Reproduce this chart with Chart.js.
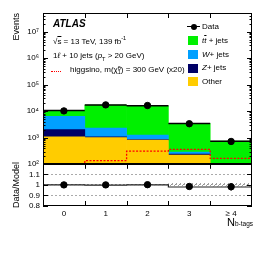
<!DOCTYPE html>
<html><head><meta charset="utf-8">
<script src="https://cdn.jsdelivr.net/npm/chart.js@4"></script>
<style>
html,body{margin:0;padding:0;background:#fff;}
#wrap{position:relative;width:266px;height:253px;overflow:hidden;font-family:"Liberation Sans",Arial,sans-serif;color:#000;}
canvas{position:absolute;left:0;}
.t{position:absolute;white-space:nowrap;line-height:10px;height:10px;font-size:8px;}
.box{position:absolute;width:10px;height:9px;left:188px;}
sub,sup{font-size:70%;line-height:0;}
.ss{display:inline-block;vertical-align:middle;line-height:4px;font-size:5.5px;text-align:left;}
</style></head><body>
<div id="wrap">
<canvas id="main" width="266" height="166" style="top:0"></canvas>
<canvas id="ratio" width="266" height="91" style="top:162px"></canvas>

<div class="t" style="left:53px;top:19px;font-size:10px;font-weight:bold;font-style:italic;">ATLAS</div>
<div class="t" style="left:53px;top:37px;">√<span style="text-decoration:overline">s</span> = 13 TeV, 139 fb<sup>-1</sup></div>
<div class="t" style="left:53px;top:51px;">1<i>ℓ</i> + 10 jets (<i>p</i><sub>T</sub> &gt; 20 GeV)</div>
<div style="position:absolute;left:51px;top:71px;width:10px;border-top:1.3px dotted #f00;"></div>
<div class="t" style="left:70px;top:65px;">higgsino, m(χ̃<span class="ss">0<br>1</span>) = 300 GeV (x20)</div>

<div style="position:absolute;left:187px;top:26px;width:13px;height:1px;background:#000;"></div>
<div style="position:absolute;left:190.5px;top:23.5px;width:6px;height:6px;border-radius:50%;background:#000;"></div>
<div class="t" style="left:202px;top:21.5px;">Data</div>
<div class="box" style="top:36px;background:#00f000;"></div>
<div class="t" style="left:202px;top:35.5px;"><i>t</i><i style="text-decoration:overline">t</i> + jets</div>
<div class="box" style="top:50px;background:#00a0ff;"></div>
<div class="t" style="left:202px;top:49.5px;"><i>W</i>+ jets</div>
<div class="box" style="top:64px;background:#000066;"></div>
<div class="t" style="left:202px;top:63px;"><i>Z</i>+ jets</div>
<div class="box" style="top:77px;background:#ffcc00;"></div>
<div class="t" style="left:202px;top:77px;">Other</div>

<div class="t" style="left:227px;top:216px;font-size:11px;height:12px;line-height:12px;">N<span style="font-size:6.5px;">b-tags</span></div>
</div>
<script>
const categories = ['0', '1', '2', '3', '≥ 4'];
const dataEvents = [10200, 17200, 16300, 3350, 720];
const ttbar = [4100, 14700, 14760, 3115, 652];
const wjets = [4400, 1220, 390, 45, 20];
const zjets = [930, 80, 40, 20, 8];
const other = [1070, 1000, 810, 220, 60];
const higgsino = [60, 137, 310, 360, 165];
const ratioData = [1.0, 1.0, 1.002, 0.985, 0.982];
const ratioErr = [0.01, 0.008, 0.008, 0.017, 0.035];
const ratioModel = [1.0, 0.998, 1.0, 0.98, 0.98];
const bandLo = [0.997, 0.997, 0.997, 0.99, 0.985];
const bandHi = [1.003, 1.003, 1.004, 1.017, 1.018];
const mainYTicks = [1e2, 1e3, 1e4, 1e5, 1e6, 1e7];
const ratioYTicks = [0.8, 0.9, 1.0, 1.1, 1.2];

Chart.defaults.font.family = '"Liberation Sans", Arial, sans-serif';
Chart.defaults.color = '#000';

const total = categories.map((_, i) => ttbar[i] + wjets[i] + zjets[i] + other[i]);
const edges = categories.map((_, i) => i - 0.5).concat([categories.length - 0.5]);
const pts = vals => vals.map((v, i) => ({x: i, y: v}));
const steps = vals => edges.map((e, i) => ({x: e, y: vals[Math.min(i, vals.length - 1)]}));
const hsegs = vals => {
  const out = [];
  vals.forEach((v, i) => { out.push({x: edges[i], y: v}, {x: edges[i + 1], y: v}, {x: edges[i + 1], y: null}); });
  return out;
};
const supMap = {'0':'⁰','1':'¹','2':'²','3':'³','4':'⁴','5':'⁵','6':'⁶','7':'⁷','8':'⁸','9':'⁹'};
const sup = n => String(n).split('').map(c => supMap[c]).join('');

function framePlugin(cfg) {
  return {
    id: 'frame',
    afterDatasetsDraw(chart) {
      const {ctx, chartArea: a, scales} = chart;
      ctx.save();
      ctx.strokeStyle = '#000';
      ctx.lineWidth = 1;
      ctx.beginPath();
      cfg.y.forEach(([v, len]) => {
        const py = Math.round(scales.y.getPixelForValue(v)) + 0.5;
        ctx.moveTo(a.left, py); ctx.lineTo(a.left + len, py);
        ctx.moveTo(a.right, py); ctx.lineTo(a.right - len, py);
      });
      cfg.x.forEach(([v, len, top, bottom]) => {
        const px = Math.round(scales.x.getPixelForValue(v)) + 0.5;
        if (top) { ctx.moveTo(px, a.top); ctx.lineTo(px, a.top + len); }
        if (bottom) { ctx.moveTo(px, a.bottom); ctx.lineTo(px, a.bottom - len); }
      });
      ctx.stroke();
      ctx.strokeRect(Math.round(a.left) + 0.5, Math.round(a.top) + 0.5,
        Math.round(a.right - a.left) - 1, Math.round(a.bottom - a.top) - 1);
      if (cfg.err) {
        ctx.beginPath();
        cfg.err.vals.forEach((v, i) => {
          const px = scales.x.getPixelForValue(i);
          ctx.moveTo(px, scales.y.getPixelForValue(v - cfg.err.e[i]));
          ctx.lineTo(px, scales.y.getPixelForValue(v + cfg.err.e[i]));
        });
        ctx.lineWidth = 1.2;
        ctx.stroke();
      }
      ctx.restore();
    }
  };
}

const mainTickMarks = [];
for (let e = 2; e <= 7; e++) {
  for (let k = 1; k <= 9; k++) {
    const v = k * Math.pow(10, e);
    if (v > 100 && v < 5e7) mainTickMarks.push([v, k === 1 ? 5 : 2.5]);
  }
}
const edgeTicks = edges.slice(1, -1);

function mainConfig() {
  return {
    type: 'bar',
    data: {
      datasets: [
        {type: 'scatter', label: 'Data', data: pts(dataEvents), backgroundColor: '#000', borderColor: '#000', pointRadius: 3.2, order: 0, stack: 'd'},
        {type: 'line', label: 'Total', data: hsegs(total), borderColor: '#000', borderWidth: 1.5, pointRadius: 0, order: 1, stack: 't', spanGaps: false},
        {type: 'line', label: 'higgsino', data: steps(higgsino), stepped: true, borderColor: '#ff0000', borderDash: [2, 1.5], borderWidth: 1.3, pointRadius: 0, order: 2, stack: 'h'},
        {label: 'Other', data: pts(other), backgroundColor: '#ffcc00', order: 5},
        {label: 'Z+jets', data: pts(zjets), backgroundColor: '#000066', order: 5},
        {label: 'W+jets', data: pts(wjets), backgroundColor: '#00a0ff', order: 5},
        {label: 'ttbar+jets', data: pts(ttbar), backgroundColor: '#00f000', order: 5}
      ]
    },
    options: {
      responsive: false, animation: false,
      layout: {padding: {left: 0, right: 14, top: 13, bottom: 0}},
      plugins: {legend: {display: false}, tooltip: {enabled: false}},
      datasets: {bar: {barPercentage: 1, categoryPercentage: 1, borderWidth: 0}},
      scales: {
        x: {
          type: 'linear', min: -0.5, max: 4.5, display: false, stacked: true, offset: false,
          afterBuildTicks: s => { s.ticks = categories.map((_, i) => ({value: i})); }
        },
        y: {
          type: 'logarithmic', min: 100, max: 5e7, stacked: true,
          afterFit: s => { s.width = 43; },
          afterBuildTicks: s => { s.ticks = mainYTicks.map(v => ({value: v})); },
          ticks: {callback: v => '10' + sup(Math.round(Math.log10(v))), font: {size: 8}, padding: 4, autoSkip: false},
          grid: {display: false, drawTicks: false},
          border: {display: false},
          title: {display: true, text: 'Events', align: 'end', font: {size: 9}, padding: {top: 11, bottom: 0}}
        }
      }
    },
    plugins: [framePlugin({y: mainTickMarks, x: edgeTicks.map(v => [v, 5, true, false])})]
  };
}

function hatch() {
  const c = document.createElement('canvas');
  c.width = 4; c.height = 4;
  const g = c.getContext('2d');
  g.strokeStyle = '#888'; g.lineWidth = 0.8;
  g.beginPath();
  g.moveTo(0, 4); g.lineTo(4, 0);
  g.moveTo(-1, 1); g.lineTo(1, -1);
  g.moveTo(3, 5); g.lineTo(5, 3);
  g.stroke();
  return g.createPattern(c, 'repeat');
}

function ratioConfig() {
  return {
    type: 'line',
    data: {
      datasets: [
        {type: 'scatter', label: 'ratio', data: pts(ratioData), backgroundColor: '#000', borderColor: '#000', pointRadius: 3.2, order: 0},
        {label: 'model', data: steps(ratioModel), stepped: true, borderColor: '#222', borderWidth: 1.2, pointRadius: 0, order: 1},
        {label: 'bandHi', data: steps(bandHi), stepped: true, borderWidth: 0, pointRadius: 0, fill: '+1', backgroundColor: hatch(), order: 2},
        {label: 'bandLo', data: steps(bandLo), stepped: true, borderWidth: 0, pointRadius: 0, order: 3}
      ]
    },
    options: {
      responsive: false, animation: false,
      layout: {padding: {left: 0, right: 14, top: 0, bottom: 0}},
      plugins: {legend: {display: false}, tooltip: {enabled: false}},
      scales: {
        x: {
          type: 'linear', min: -0.5, max: 4.5, offset: false,
          afterFit: s => { s.height = 47; },
          afterBuildTicks: s => { s.ticks = categories.map((_, i) => ({value: i})); },
          ticks: {callback: v => categories[v], font: {size: 8}, padding: 3, maxRotation: 0, autoSkip: false},
          grid: {display: false, drawTicks: false},
          border: {display: false}
        },
        y: {
          type: 'linear', min: 0.8, max: 1.2,
          afterFit: s => { s.width = 43; },
          afterBuildTicks: s => { s.ticks = ratioYTicks.map(v => ({value: v})); },
          ticks: {callback: v => (Math.abs(v - 1.2) < 1e-6 ? '' : (Math.abs(v - 1) < 1e-6 ? '1' : v.toFixed(1))), font: {size: 8}, padding: 3, autoSkip: false},
          grid: {
            drawTicks: false,
            color: c => ([0.9, 1.0, 1.1].some(v => c.tick && Math.abs(c.tick.value - v) < 1e-6) ? '#aaa' : 'rgba(0,0,0,0)')
          },
          border: {display: false, dash: [2, 2]},
          title: {display: true, text: 'Data/Model', font: {size: 9}, padding: {top: 11, bottom: 0}}
        }
      }
    },
    plugins: [framePlugin({
      y: ratioYTicks.map(v => [v, 5]),
      x: edgeTicks.map(v => [v, 5, true, true]),
      err: {vals: ratioData, e: ratioErr}
    })]
  };
}

// Place a chart so that its plot area spans [pageTop, pageBottom] vertically.
function placeChart(id, makeConfig, pageTop, pageBottom) {
  const cv = document.getElementById(id);
  const h0 = 120;
  cv.width = 266; cv.height = h0;
  let ch = new Chart(cv, makeConfig());
  const topOff = ch.chartArea.top;
  const botGap = h0 - ch.chartArea.bottom;
  ch.destroy();
  cv.width = 266;
  cv.height = Math.round(pageBottom - pageTop + topOff + botGap);
  cv.style.top = Math.round(pageTop - topOff) + 'px';
  return new Chart(cv, makeConfig());
}

placeChart('main', mainConfig, 13, 164);
placeChart('ratio', ratioConfig, 164, 206);
</script>
</body></html>
